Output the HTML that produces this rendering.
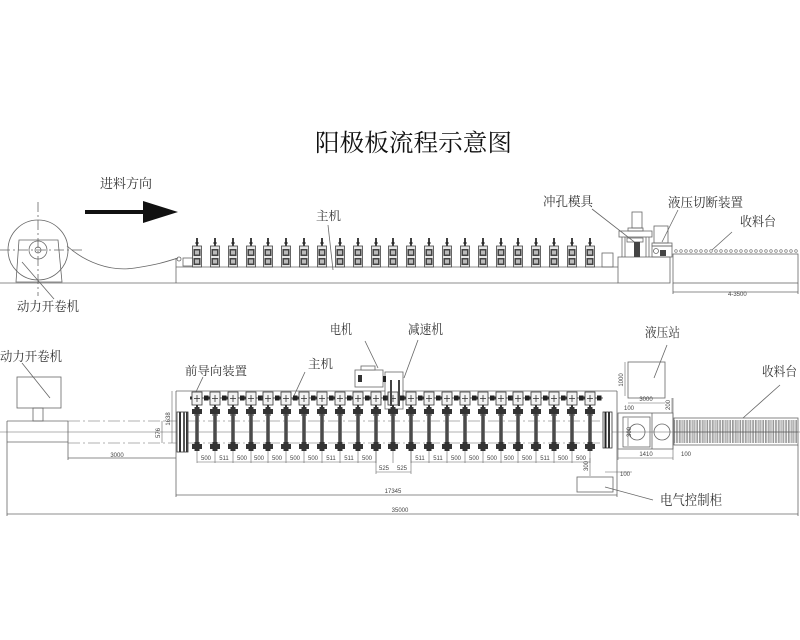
<!DOCTYPE html>
<html><head><meta charset="utf-8"><style>
html,body{margin:0;padding:0;background:#fff;}
svg{display:block;}
.t{font-family:"Liberation Serif","Noto Serif CJK SC","Noto Sans CJK SC",serif;fill:#333;}
.n{font-family:"Liberation Sans",sans-serif;fill:#444;font-size:6px;}
</style></head><body>
<svg width="800" height="640" viewBox="0 0 800 640" xmlns="http://www.w3.org/2000/svg">
<defs>
<g id="ts">
 <line x1="0" y1="238" x2="0" y2="248" stroke="#111" stroke-width="1.6"/>
 <line x1="-2" y1="243" x2="2" y2="243" stroke="#111" stroke-width="0.8"/>
 <rect x="-4.5" y="246" width="9" height="21" fill="#e6e6e6" stroke="#444" stroke-width="0.8"/>
 <rect x="-3.5" y="249" width="7" height="7" fill="#444"/>
 <rect x="-2" y="250.5" width="4" height="4" fill="#bbb"/>
 <rect x="-3.5" y="258" width="7" height="7" fill="#444"/>
 <rect x="-2" y="259.5" width="4" height="4" fill="#bbb"/>
</g>
<g id="ps">
 <rect x="-5" y="392" width="10" height="13" fill="#f2f2f2" stroke="#333" stroke-width="0.8"/>
 <line x1="-3" y1="398.5" x2="3" y2="398.5" stroke="#333" stroke-width="0.8"/>
 <line x1="0" y1="395" x2="0" y2="402" stroke="#333" stroke-width="0.8"/>
 <line x1="5" y1="398" x2="13" y2="398" stroke="#333" stroke-width="0.8"/>
 <rect x="7" y="395.5" width="4.5" height="5" fill="#222"/>
 <rect x="-7" y="396.5" width="2" height="3" fill="#333"/>
 <rect x="-1" y="405" width="2" height="4" fill="#333"/>
 <rect x="-5" y="409" width="10" height="5" fill="#333"/>
 <rect x="-2.5" y="407" width="5" height="9" fill="#333"/>
 <rect x="-1.9" y="414" width="3.8" height="31" fill="#666"/>
 <line x1="0" y1="414" x2="0" y2="445" stroke="#222" stroke-width="0.8"/>
 <rect x="-5" y="444" width="10" height="5" fill="#333"/>
 <rect x="-2.5" y="442" width="5" height="9" fill="#333"/>
 <line x1="0" y1="451" x2="0" y2="463" stroke="#666" stroke-width="0.6"/>
</g>
<pattern id="rol" x="674" y="0" width="3.3" height="10" patternUnits="userSpaceOnUse">
 <rect x="0.4" y="-1" width="1.9" height="12" fill="none" stroke="#555" stroke-width="0.6"/>
</pattern>
</defs>

<!-- Title -->
<text class="t" x="315" y="151" font-size="24" textLength="197" lengthAdjust="spacingAndGlyphs" style="fill:#111">阳极板流程示意图</text>

<!-- feed direction -->
<text class="t" x="100" y="188" font-size="13" textLength="52" lengthAdjust="spacingAndGlyphs">进料方向</text>
<rect x="85" y="210" width="58" height="4" fill="#111"/>
<polygon points="143,201 178,212 143,223" fill="#111"/>

<!-- ===== TOP (elevation) VIEW ===== -->
<g stroke="#666" stroke-width="0.8" fill="none">
 <circle cx="38" cy="250" r="30"/>
 <circle cx="38" cy="250" r="9"/>
 <circle cx="38" cy="250" r="3"/>
 <polygon points="19,240 58,240 62,282 16,282"/>
 <line x1="38" y1="202" x2="38" y2="296" stroke-dasharray="10 3 2 3"/>
 <line x1="0" y1="250" x2="82" y2="250" stroke-dasharray="10 3 2 3"/>
 <path d="M67,246 C 85,262 110,272 135,268 S 165,262 178,258"/>
 <line x1="0" y1="283" x2="618" y2="283"/>
 <line x1="22" y1="262" x2="54" y2="299"/>
 <line x1="176" y1="258" x2="176" y2="283"/>
 <line x1="176" y1="267" x2="618" y2="267"/>
 <circle cx="179" cy="259" r="2"/>
 <rect x="183" y="258" width="10" height="8"/>
 <rect x="602" y="253" width="11" height="14"/>
 <!-- die -->
 <rect x="618" y="257" width="52" height="26"/>
 <rect x="632" y="212" width="10" height="16"/>
 <rect x="628" y="228" width="15" height="3"/>
 <rect x="619" y="231" width="33" height="6"/>
 <line x1="622" y1="237" x2="622" y2="257"/>
 <line x1="625" y1="237" x2="625" y2="257"/>
 <line x1="646" y1="237" x2="646" y2="257"/>
 <line x1="649" y1="237" x2="649" y2="257"/>
 <rect x="627" y="238" width="16" height="4"/>
 <!-- cutter -->
 <rect x="654" y="226" width="14" height="17"/>
 <rect x="652" y="243" width="20" height="3"/>
 <rect x="652" y="246" width="20" height="11"/>
 <circle cx="656" cy="251" r="2.5"/>
 <!-- receiving table -->
 <rect x="673" y="254" width="125" height="29"/>
 <line x1="673" y1="283" x2="673" y2="294"/>
 <line x1="798" y1="283" x2="798" y2="294"/>
 <line x1="673" y1="292" x2="798" y2="292"/>
 <!-- leaders -->
 <line x1="328" y1="225" x2="333" y2="270"/>
 <line x1="592" y1="209" x2="637" y2="244"/>
 <line x1="678" y1="210" x2="662" y2="242"/>
 <line x1="732" y1="232" x2="712" y2="250"/>
</g>
<rect x="634" y="242" width="6" height="15" fill="#444"/>
<rect x="660" y="250" width="6" height="6" fill="#444"/>
<g fill="none" stroke="#666" stroke-width="0.6">
 <circle cx="676" cy="251" r="1.3"/><circle cx="681" cy="251" r="1.3"/><circle cx="686" cy="251" r="1.3"/><circle cx="691" cy="251" r="1.3"/><circle cx="696" cy="251" r="1.3"/><circle cx="701" cy="251" r="1.3"/><circle cx="706" cy="251" r="1.3"/><circle cx="711" cy="251" r="1.3"/><circle cx="716" cy="251" r="1.3"/><circle cx="721" cy="251" r="1.3"/><circle cx="726" cy="251" r="1.3"/><circle cx="731" cy="251" r="1.3"/><circle cx="736" cy="251" r="1.3"/><circle cx="741" cy="251" r="1.3"/><circle cx="746" cy="251" r="1.3"/><circle cx="751" cy="251" r="1.3"/><circle cx="756" cy="251" r="1.3"/><circle cx="761" cy="251" r="1.3"/><circle cx="766" cy="251" r="1.3"/><circle cx="771" cy="251" r="1.3"/><circle cx="776" cy="251" r="1.3"/><circle cx="781" cy="251" r="1.3"/><circle cx="786" cy="251" r="1.3"/><circle cx="791" cy="251" r="1.3"/><circle cx="796" cy="251" r="1.3"/>
</g>
<text class="n" x="728" y="296" font-size="6">4-3500</text>

<use href="#ts" x="197"/><use href="#ts" x="215"/><use href="#ts" x="233"/><use href="#ts" x="251"/><use href="#ts" x="268"/><use href="#ts" x="286"/><use href="#ts" x="304"/><use href="#ts" x="322"/><use href="#ts" x="340"/><use href="#ts" x="358"/><use href="#ts" x="376"/><use href="#ts" x="393"/><use href="#ts" x="411"/><use href="#ts" x="429"/><use href="#ts" x="447"/><use href="#ts" x="465"/><use href="#ts" x="483"/><use href="#ts" x="501"/><use href="#ts" x="518"/><use href="#ts" x="536"/><use href="#ts" x="554"/><use href="#ts" x="572"/><use href="#ts" x="590"/>

<text class="t" x="316" y="220" font-size="12" textLength="25" lengthAdjust="spacingAndGlyphs">主机</text>
<text class="t" x="17" y="311" font-size="13" textLength="62" lengthAdjust="spacingAndGlyphs">动力开卷机</text>
<text class="t" x="543" y="206" font-size="13" textLength="50" lengthAdjust="spacingAndGlyphs">冲孔模具</text>
<text class="t" x="668" y="207" font-size="13" textLength="75" lengthAdjust="spacingAndGlyphs">液压切断装置</text>
<text class="t" x="740" y="226" font-size="13" textLength="36" lengthAdjust="spacingAndGlyphs">收料台</text>

<!-- ===== BOTTOM (plan) VIEW ===== -->
<g stroke="#666" stroke-width="0.8" fill="none">
 <!-- unwinder -->
 <rect x="17" y="377" width="44" height="31"/>
 <rect x="33" y="408" width="10" height="13"/>
 <line x1="7" y1="421" x2="68" y2="421"/>
 <line x1="7" y1="442" x2="68" y2="442"/>
 <line x1="7" y1="421" x2="7" y2="516"/>
 <line x1="68" y1="421" x2="68" y2="460"/>
 <line x1="68" y1="458" x2="176" y2="458"/>
 <line x1="22" y1="363" x2="50" y2="398"/>
 <!-- center lines -->
 <line x1="0" y1="432" x2="800" y2="432" stroke-width="0.6"/>
 <line x1="68" y1="421" x2="612" y2="421" stroke-dasharray="12 3 2 3" stroke-width="0.6"/>
 <line x1="68" y1="443" x2="612" y2="443" stroke-dasharray="12 3 2 3" stroke-width="0.6"/>
 <!-- frame -->
 <line x1="176" y1="391" x2="617" y2="391"/>
 <line x1="176" y1="391" x2="176" y2="497"/>
 <line x1="617" y1="391" x2="617" y2="497"/>
 <line x1="176" y1="495" x2="617" y2="495"/>
 <line x1="7" y1="514" x2="798" y2="514"/>
 <line x1="798" y1="445" x2="798" y2="516"/>
 <line x1="172" y1="391" x2="172" y2="443" stroke-width="0.6"/>
 <line x1="162" y1="421" x2="162" y2="443" stroke-width="0.6"/>
 <!-- dimension rows -->
 <line x1="197" y1="462" x2="376" y2="462" stroke-width="0.6"/>
 <line x1="376" y1="472" x2="411" y2="472" stroke-width="0.6"/>
 <line x1="411" y1="462" x2="590" y2="462" stroke-width="0.6"/>
 <line x1="376" y1="451" x2="376" y2="474" stroke-width="0.6"/>
 <line x1="411" y1="451" x2="411" y2="474" stroke-width="0.6"/>
 <line x1="590" y1="458" x2="590" y2="476" stroke-width="0.6"/>
 <!-- motor & reducer -->
 <rect x="355" y="370" width="28" height="17" fill="#fff"/>
 <rect x="361" y="366" width="14" height="4" fill="#fff"/>
 <rect x="385" y="372" width="18" height="37" fill="#fff"/>
 <line x1="365" y1="341" x2="378" y2="368"/>
 <line x1="418" y1="340" x2="404" y2="378"/>
 <line x1="203" y1="377" x2="195" y2="394"/>
 <line x1="305" y1="372" x2="292" y2="400"/>
 <!-- electric cabinet -->
 <rect x="577" y="477" width="36" height="15"/>
 <line x1="605" y1="487" x2="653" y2="500"/>
 <line x1="605" y1="472" x2="632" y2="472" stroke-width="0.6"/>
 <!-- hydraulic station -->
 <rect x="628" y="362" width="37" height="36"/>
 <line x1="625" y1="362" x2="625" y2="396" stroke-width="0.6"/>
 <line x1="628" y1="403" x2="665" y2="403" stroke-width="0.6"/>
 <line x1="667" y1="345" x2="654" y2="378"/>
 <line x1="672" y1="398" x2="672" y2="413" stroke-width="0.6"/>
 <!-- die/cutter plan -->
 <rect x="618" y="413" width="55" height="36"/>
 <rect x="623" y="417" width="27" height="30"/>
 <line x1="652" y1="413" x2="652" y2="449"/>
 <circle cx="637" cy="432" r="8"/>
 <circle cx="662" cy="432" r="8"/>
 <line x1="618" y1="449" x2="618" y2="460" stroke-width="0.6"/>
 <line x1="673" y1="398" x2="673" y2="460" stroke-width="0.6"/>
 <line x1="618" y1="458" x2="673" y2="458" stroke-width="0.6"/>
 <line x1="628" y1="418" x2="628" y2="446" stroke-width="0.6"/>
 <!-- receiving table plan -->
 <rect x="674" y="418" width="124" height="27"/>
 <line x1="780" y1="385" x2="743" y2="418"/>
</g>
<rect x="674" y="420" width="124" height="23" fill="url(#rol)"/>
<line x1="674" y1="432" x2="798" y2="432" stroke="#555" stroke-width="0.6"/>

<!-- entry/exit guides -->
<rect x="177" y="412" width="11" height="40" fill="#fff" stroke="#333" stroke-width="0.8"/>
<rect x="179" y="412" width="2" height="40" fill="#333"/>
<rect x="183" y="412" width="2" height="40" fill="#555"/>
<rect x="186" y="412" width="1.5" height="40" fill="#333"/>
<rect x="603" y="412" width="9" height="36" fill="#fff" stroke="#333" stroke-width="0.8"/>
<rect x="604.5" y="412" width="2" height="36" fill="#222"/>
<rect x="608" y="412" width="2" height="36" fill="#333"/>

<use href="#ps" x="197"/><use href="#ps" x="215"/><use href="#ps" x="233"/><use href="#ps" x="251"/><use href="#ps" x="268"/><use href="#ps" x="286"/><use href="#ps" x="304"/><use href="#ps" x="322"/><use href="#ps" x="340"/><use href="#ps" x="358"/><use href="#ps" x="376"/><use href="#ps" x="393"/><use href="#ps" x="411"/><use href="#ps" x="429"/><use href="#ps" x="447"/><use href="#ps" x="465"/><use href="#ps" x="483"/><use href="#ps" x="501"/><use href="#ps" x="518"/><use href="#ps" x="536"/><use href="#ps" x="554"/><use href="#ps" x="572"/><use href="#ps" x="590"/>

<!-- motor details over stands -->
<rect x="358" y="375" width="4" height="7" fill="#333"/>
<rect x="383" y="376" width="3" height="6" fill="#222"/>
<rect x="390" y="380" width="2" height="26" fill="#444"/>
<rect x="398" y="380" width="2" height="26" fill="#444"/>

<!-- dimension texts -->
<g class="n" text-anchor="middle">
 <text x="206" y="460">500</text><text x="224" y="460">511</text><text x="242" y="460">500</text><text x="259" y="460">500</text><text x="277" y="460">500</text><text x="295" y="460">500</text><text x="313" y="460">500</text><text x="331" y="460">511</text><text x="349" y="460">511</text><text x="367" y="460">500</text>
 <text x="384" y="470">525</text><text x="402" y="470">525</text>
 <text x="420" y="460">511</text><text x="438" y="460">511</text><text x="456" y="460">500</text><text x="474" y="460">500</text><text x="492" y="460">500</text><text x="509" y="460">500</text><text x="527" y="460">500</text><text x="545" y="460">511</text><text x="563" y="460">500</text><text x="581" y="460">500</text>
 <text x="117" y="457">3000</text>
 <text x="393" y="493">17345</text>
 <text x="400" y="512">35000</text>
 <text x="646" y="401">3000</text>
 <text x="646" y="456">1410</text>
 <text x="686" y="456">100</text>
 <text x="629" y="410">100</text>
 <text x="625" y="476">100</text>
</g>
<g class="n">
 <text transform="translate(170,419) rotate(-90)" text-anchor="middle">1638</text>
 <text transform="translate(160,433) rotate(-90)" text-anchor="middle">576</text>
 <text transform="translate(623,380) rotate(-90)" text-anchor="middle">1000</text>
 <text transform="translate(670,405) rotate(-90)" text-anchor="middle">200</text>
 <text transform="translate(588,466) rotate(-90)" text-anchor="middle">300</text>
 <text transform="translate(631,432) rotate(-90)" text-anchor="middle">300</text>
</g>

<text class="t" x="330" y="334" font-size="13" textLength="22" lengthAdjust="spacingAndGlyphs">电机</text>
<text class="t" x="408" y="334" font-size="13" textLength="35" lengthAdjust="spacingAndGlyphs">减速机</text>
<text class="t" x="0" y="361" font-size="13" textLength="62" lengthAdjust="spacingAndGlyphs">动力开卷机</text>
<text class="t" x="185" y="375" font-size="12" textLength="62" lengthAdjust="spacingAndGlyphs">前导向装置</text>
<text class="t" x="308" y="368" font-size="12" textLength="25" lengthAdjust="spacingAndGlyphs">主机</text>
<text class="t" x="645" y="337" font-size="13" textLength="35" lengthAdjust="spacingAndGlyphs">液压站</text>
<text class="t" x="762" y="376" font-size="13" textLength="35" lengthAdjust="spacingAndGlyphs">收料台</text>
<text class="t" x="660" y="505" font-size="14" textLength="62" lengthAdjust="spacingAndGlyphs">电气控制柜</text>
</svg>
</body></html>
